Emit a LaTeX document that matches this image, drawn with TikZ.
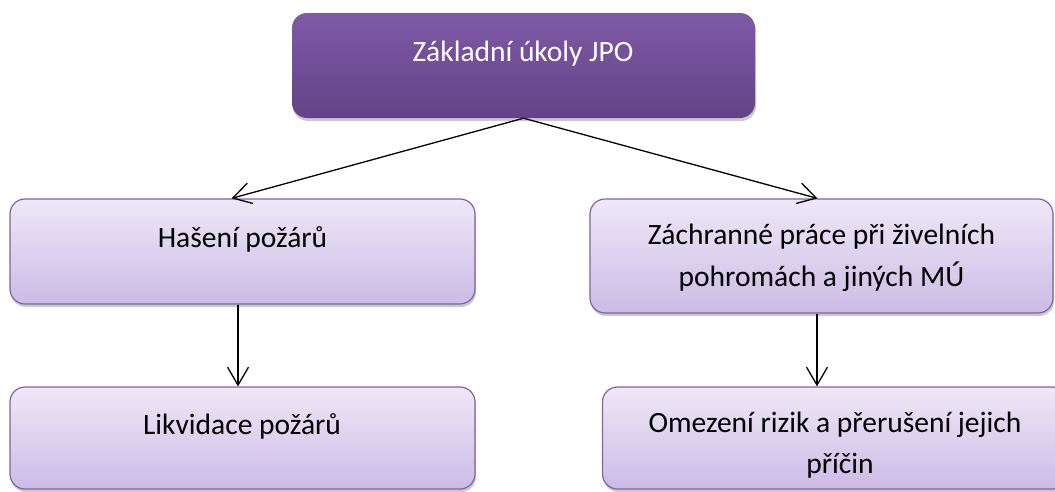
\documentclass[tikz,border=0pt]{standalone}
\usepackage{fontspec}
\setmainfont{Carlito}
\usetikzlibrary{arrows.meta,shadows}
\definecolor{topA}{RGB}{127,89,167}
\definecolor{topB}{RGB}{99,67,133}
\definecolor{lowA}{RGB}{238,232,247}
\definecolor{lowB}{RGB}{204,187,230}
\definecolor{edge}{RGB}{128,100,162}
\tikzset{
  shadowed/.style={drop shadow={shadow xshift=1pt,shadow yshift=-3pt,opacity=0.35,fill=black!60}},
  headbox/.style={rounded corners=15pt,draw=none,top color=topA,bottom color=topB,shadowed,inner sep=0pt},
  lowbox/.style={rounded corners=15pt,draw=edge,line width=1.2pt,top color=lowA,bottom color=lowB,shadowed,inner sep=0pt},
  lbl/.style={font=\fontsize{29.5}{41}\selectfont,anchor=base,inner sep=0pt},
  conn/.style={line width=1.3pt,-{Straight Barb[length=18pt,width=21pt,line width=1.3pt]}}
}
\begin{document}
\begin{tikzpicture}[x=1pt,y=-1pt]
\useasboundingbox (0,0) rectangle (1055,491);
\node[headbox,minimum width=463pt,minimum height=105pt] (top) at (523.5,65.5) {};
\node[lowbox,minimum width=465pt,minimum height=105pt] (b1) at (242.5,251.5) {};
\node[lowbox,minimum width=463pt,minimum height=114pt] (b2) at (821.5,256) {};
\node[lowbox,minimum width=465pt,minimum height=102pt] (b3) at (242.5,438) {};
\node[lowbox,minimum width=465pt,minimum height=102pt] (b4) at (835,438) {};
\node[lbl,text=white] (t0) at (523,61) {Základní úkoly JPO};
\node[lbl] (t1) at (242.5,247) {Hašení požárů};
\node[lbl] (t2a) at (821.5,244) {Záchranné práce při živelních};
\node[lbl] (t2b) at (821.5,286) {pohromách a jiných MÚ};
\node[lbl] (t3) at (242,434) {Likvidace požárů};
\node[lbl] (t4a) at (835,432) {Omezení rizik a přerušení jejich};
\node[lbl] (t4b) at (840,473) {příčin};
\draw[conn] (top.south) -- ([xshift=-11pt]b1.north);
\draw[conn] (top.south) -- ([xshift=-4pt]b2.north);
\draw[conn] ([xshift=-4.5pt]b1.south) -- ([xshift=-4.5pt]b3.north);
\draw[conn] ([xshift=-4.5pt]b2.south) -- ([xshift=-18pt]b4.north);
\end{tikzpicture}
\end{document}
